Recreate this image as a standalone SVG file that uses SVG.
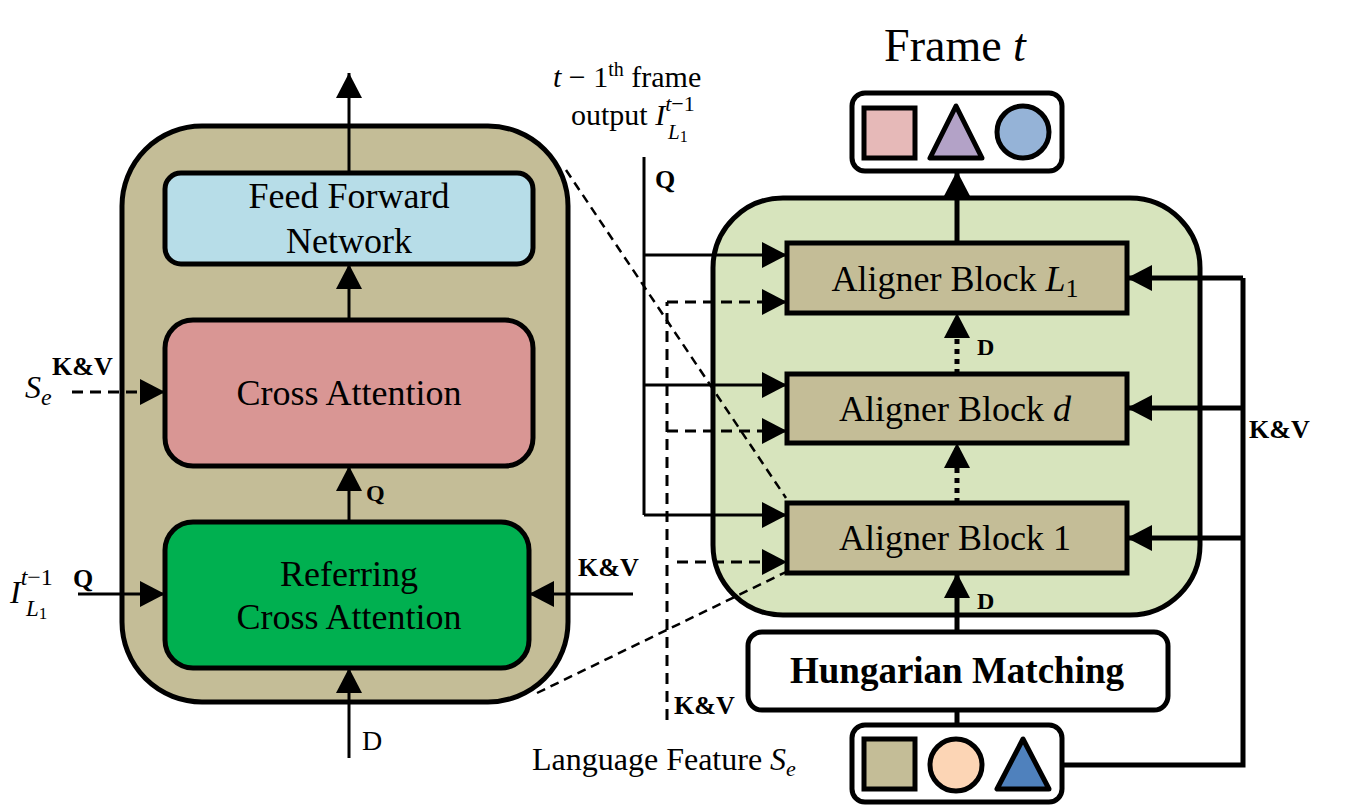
<svg xmlns="http://www.w3.org/2000/svg" width="1347" height="805" viewBox="0 0 1347 805">
<style>
.t{font-family:"Liberation Serif","Times New Roman",serif;fill:#000}
.m{font-family:"Liberation Serif","Times New Roman",serif;font-style:italic;fill:#000}
.b{font-family:"Liberation Serif","Times New Roman",serif;font-weight:bold;fill:#000}
.box{stroke:#000;stroke-width:5}
.ln{fill:none;stroke:#000;stroke-width:3}
.lnb{fill:none;stroke:#000;stroke-width:5}
.dash{fill:none;stroke:#000;stroke-width:3;stroke-dasharray:11 7}
.dashthin{fill:none;stroke:#000;stroke-width:2.5;stroke-dasharray:9 6}
.dot{fill:none;stroke:#000;stroke-width:5;stroke-dasharray:5 5}
</style>
<defs>
<marker id="ah" viewBox="0 0 25 26" markerWidth="25" markerHeight="26" refX="25" refY="13" markerUnits="userSpaceOnUse" orient="auto">
<path d="M0,0 L25,13 L0,26 z" fill="#000"/>
</marker>
</defs>
<rect width="1347" height="805" fill="#fff"/>

<g id="left-panel">
<rect x="122" y="126" width="446" height="576" rx="80" fill="#C4BD97" class="box"/>
</g>
<g id="right-panel">
<rect x="713" y="198" width="487" height="417" rx="70" fill="#D7E4BD" class="box"/>
</g>

<g id="connectors">
<path class="ln" d="M349,173 V73" marker-end="url(#ah)"/>
<path class="ln" d="M349,320 V264" marker-end="url(#ah)"/>
<path class="ln" d="M349,522 V466" marker-end="url(#ah)"/>
<path class="ln" d="M349,758 V668" marker-end="url(#ah)"/>
<path class="ln" d="M633,594 H529" marker-end="url(#ah)"/>
<path class="ln" d="M78,594 H165" marker-end="url(#ah)"/>
<path class="dash" d="M72,392 H165" marker-end="url(#ah)"/>
<path class="ln" d="M644,157 V515"/>
<path class="ln" d="M644,255 H787" marker-end="url(#ah)"/>
<path class="ln" d="M644,385 H787" marker-end="url(#ah)"/>
<path class="ln" d="M644,515 H787" marker-end="url(#ah)"/>
<path class="dash" d="M667,720 V302"/>
<path class="dash" d="M667,302 H787" marker-end="url(#ah)"/>
<path class="dash" d="M667,431 H787" marker-end="url(#ah)"/>
<path class="dash" d="M677,562 H787" marker-end="url(#ah)"/>
<path class="lnb" d="M1062,765 H1243 V278"/>
<path class="lnb" d="M1243,278 H1127" marker-end="url(#ah)"/>
<path class="lnb" d="M1243,408 H1127" marker-end="url(#ah)"/>
<path class="lnb" d="M1243,538 H1127" marker-end="url(#ah)"/>
<path class="dot" d="M957,374 V313" marker-end="url(#ah)"/>
<path class="dot" d="M957,503 V443" marker-end="url(#ah)"/>
<path class="lnb" d="M957,632 V573" marker-end="url(#ah)"/>
<path class="lnb" d="M957,725 V710"/>
<path class="lnb" d="M957,243 V171" marker-end="url(#ah)"/>
<path class="dashthin" d="M566,170 L786,498"/>
<path class="dashthin" d="M537,693 L786,572"/>
</g>

<g id="ffn">
<rect x="165" y="173" width="368" height="91" rx="16" fill="#B7DDE8" class="box"/>
<text class="t" x="349" y="208" font-size="36" text-anchor="middle">Feed Forward</text>
<text class="t" x="349" y="253" font-size="36" text-anchor="middle">Network</text>
</g>
<g id="cross-attention">
<rect x="165" y="320" width="368" height="146" rx="28" fill="#D99694" class="box"/>
<text class="t" x="349" y="405" font-size="36" text-anchor="middle">Cross Attention</text>
</g>
<g id="referring-cross-attention">
<rect x="165" y="522" width="364" height="146" rx="28" fill="#00B050" class="box"/>
<text class="t" x="349" y="586" font-size="36" text-anchor="middle">Referring</text>
<text class="t" x="349" y="629" font-size="36" text-anchor="middle">Cross Attention</text>
</g>

<g id="aligner-L1">
<rect x="787" y="243" width="340" height="70" fill="#C4BD97" class="box"/>
<text x="955" y="291" font-size="36" text-anchor="middle"><tspan class="t">Aligner Block </tspan><tspan class="m">L</tspan><tspan class="t" font-size="26" dy="6">1</tspan></text>
</g>
<g id="aligner-d">
<rect x="787" y="374" width="340" height="69" fill="#C4BD97" class="box"/>
<text x="955" y="421" font-size="36" text-anchor="middle"><tspan class="t">Aligner Block </tspan><tspan class="m">d</tspan></text>
</g>
<g id="aligner-1">
<rect x="787" y="503" width="340" height="70" fill="#C4BD97" class="box"/>
<text class="t" x="955" y="550" font-size="36" text-anchor="middle">Aligner Block 1</text>
</g>

<g id="hungarian">
<rect x="748" y="632" width="420" height="78" rx="14" fill="#fff" class="box"/>
<text class="b" x="957" y="683" font-size="37" text-anchor="middle">Hungarian Matching</text>
</g>

<g id="output-frame">
<rect x="852" y="93" width="210" height="78" rx="13" fill="#fff" class="box"/>
<rect x="864" y="108" width="51" height="50" fill="#E6B9B8" class="box"/>
<polygon points="956,106 930,158 982,158" fill="#B3A2C7" class="box" stroke-linejoin="round"/>
<circle cx="1023" cy="132" r="26" fill="#95B3D7" class="box"/>
</g>
<g id="input-queries">
<rect x="852" y="725" width="210" height="77" rx="13" fill="#fff" class="box"/>
<rect x="864" y="739" width="51" height="50" fill="#C4BD97" class="box"/>
<circle cx="956" cy="765" r="26" fill="#FCD5B5" class="box"/>
<polygon points="1023,739 997,789 1049,789" fill="#4F81BD" class="box" stroke-linejoin="round"/>
</g>

<g id="labels">
<text x="955" y="61" font-size="46" text-anchor="middle"><tspan class="t">Frame </tspan><tspan class="m">t</tspan></text>
<text x="553" y="87" font-size="30"><tspan class="m">t</tspan><tspan class="t"> − 1</tspan><tspan class="t" font-size="20" dy="-11">th</tspan><tspan class="t" dy="11"> frame</tspan></text>
<text x="571" y="125" font-size="30"><tspan class="t">output </tspan><tspan class="m">I</tspan><tspan class="m" font-size="22" dy="-14">t</tspan><tspan class="t" font-size="22">−1</tspan></text>
<text x="668" y="139" font-size="21"><tspan class="m">L</tspan><tspan class="t" font-size="16" dy="3">1</tspan></text>
<text class="b" x="655" y="188" font-size="26">Q</text>
<text class="b" x="674" y="714" font-size="26">K&amp;V</text>
<text class="b" x="1249" y="438" font-size="26">K&amp;V</text>
<text class="b" x="977" y="355" font-size="24">D</text>
<text class="b" x="977" y="609" font-size="24">D</text>
<text x="532" y="770" font-size="32"><tspan class="t">Language Feature </tspan><tspan class="m">S</tspan><tspan class="m" font-size="22" dy="6">e</tspan></text>
<text class="b" x="366" y="501" font-size="24">Q</text>
<text class="t" x="362" y="750" font-size="28">D</text>
<text class="b" x="578" y="576" font-size="26">K&amp;V</text>
<text class="b" x="52" y="375" font-size="26">K&amp;V</text>
<text x="25" y="398" font-size="32"><tspan class="m">S</tspan><tspan class="m" font-size="24" dy="7">e</tspan></text>
<text class="b" x="73" y="587" font-size="26">Q</text>
<text x="10" y="603" font-size="32"><tspan class="m">I</tspan><tspan class="m" font-size="24" dy="-18">t</tspan><tspan class="t" font-size="24">−1</tspan></text>
<text x="26" y="616" font-size="23"><tspan class="m">L</tspan><tspan class="t" font-size="17" dy="3">1</tspan></text>
</g>
</svg>
